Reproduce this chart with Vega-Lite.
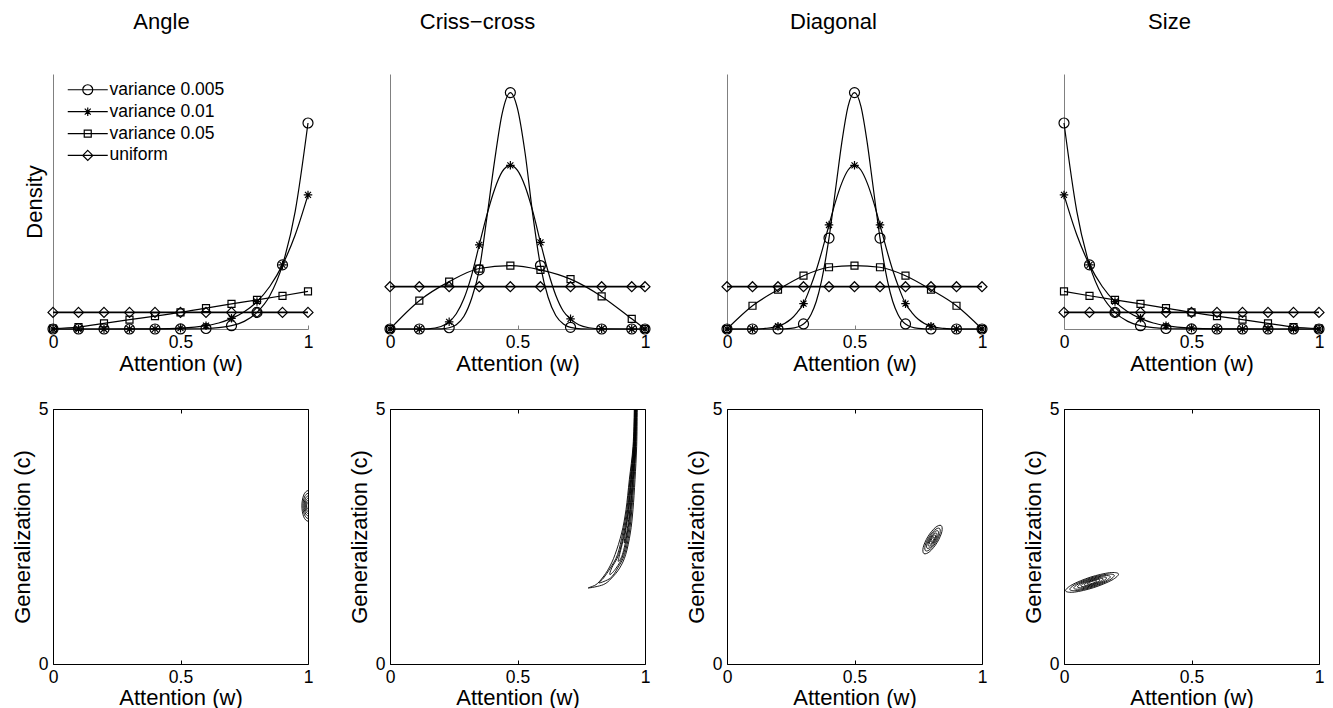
{
"$schema":"https://vega.github.io/schema/vega-lite/v6.json",
"background":"white",
"padding":{"left":10,"top":11,"right":5,"bottom":5},
"config":{
 "font":"Liberation Sans",
 "view":{"stroke":null},
 "axis":{"labelFontSize":17.5,"titleFontSize":22,"titleFontWeight":"normal","labelColor":"black","titleColor":"black","grid":false,"labelFlush":false,"labelOverlap":false},
 "title":{"fontSize":22,"fontWeight":"normal","color":"black","anchor":"middle","frame":"group","offset":40,"baseline":"alphabetic"}
},
"datasets":{
"angle":[
{"series":"variance 0.005","w":0,"density":0,"marked":true},
{"series":"variance 0.005","w":0.1,"density":0,"marked":true},
{"series":"variance 0.005","w":0.2,"density":0,"marked":true},
{"series":"variance 0.005","w":0.3,"density":0,"marked":true},
{"series":"variance 0.005","w":0.4,"density":0,"marked":true},
{"series":"variance 0.005","w":0.5,"density":0.004,"marked":true},
{"series":"variance 0.005","w":0.6,"density":0.03,"marked":true},
{"series":"variance 0.005","w":0.65,"density":0.08},
{"series":"variance 0.005","w":0.7,"density":0.2,"marked":true},
{"series":"variance 0.005","w":0.75,"density":0.46},
{"series":"variance 0.005","w":0.8,"density":1.0,"marked":true},
{"series":"variance 0.005","w":0.85,"density":2.0},
{"series":"variance 0.005","w":0.9,"density":3.86,"marked":true},
{"series":"variance 0.005","w":0.95,"density":7.1},
{"series":"variance 0.005","w":1,"density":12.4,"marked":true},
{"series":"variance 0.01","w":0,"density":0,"marked":true},
{"series":"variance 0.01","w":0.1,"density":0,"marked":true},
{"series":"variance 0.01","w":0.2,"density":0,"marked":true},
{"series":"variance 0.01","w":0.3,"density":0.002,"marked":true},
{"series":"variance 0.01","w":0.4,"density":0.01,"marked":true},
{"series":"variance 0.01","w":0.5,"density":0.05,"marked":true},
{"series":"variance 0.01","w":0.6,"density":0.2,"marked":true},
{"series":"variance 0.01","w":0.65,"density":0.36},
{"series":"variance 0.01","w":0.7,"density":0.64,"marked":true},
{"series":"variance 0.01","w":0.75,"density":1.04},
{"series":"variance 0.01","w":0.8,"density":1.65,"marked":true},
{"series":"variance 0.01","w":0.85,"density":2.56},
{"series":"variance 0.01","w":0.9,"density":3.86,"marked":true},
{"series":"variance 0.01","w":0.95,"density":5.67},
{"series":"variance 0.01","w":1,"density":8.07,"marked":true},
{"series":"variance 0.05","w":0,"density":0.02,"marked":true},
{"series":"variance 0.05","w":0.1,"density":0.12,"marked":true},
{"series":"variance 0.05","w":0.2,"density":0.34,"marked":true},
{"series":"variance 0.05","w":0.3,"density":0.56,"marked":true},
{"series":"variance 0.05","w":0.4,"density":0.77,"marked":true},
{"series":"variance 0.05","w":0.5,"density":1.0,"marked":true},
{"series":"variance 0.05","w":0.6,"density":1.26,"marked":true},
{"series":"variance 0.05","w":0.7,"density":1.51,"marked":true},
{"series":"variance 0.05","w":0.8,"density":1.75,"marked":true},
{"series":"variance 0.05","w":0.9,"density":2.0,"marked":true},
{"series":"variance 0.05","w":1,"density":2.27,"marked":true},
{"series":"uniform","w":0,"density":1,"marked":true},
{"series":"uniform","w":0.1,"density":1,"marked":true},
{"series":"uniform","w":0.2,"density":1,"marked":true},
{"series":"uniform","w":0.3,"density":1,"marked":true},
{"series":"uniform","w":0.4,"density":1,"marked":true},
{"series":"uniform","w":0.5,"density":1,"marked":true},
{"series":"uniform","w":0.6,"density":1,"marked":true},
{"series":"uniform","w":0.7,"density":1,"marked":true},
{"series":"uniform","w":0.8,"density":1,"marked":true},
{"series":"uniform","w":0.9,"density":1,"marked":true},
{"series":"uniform","w":1,"density":1,"marked":true}
],
"size":[
{"series":"variance 0.005","w":1,"density":0,"marked":true},
{"series":"variance 0.005","w":0.9,"density":0,"marked":true},
{"series":"variance 0.005","w":0.8,"density":0,"marked":true},
{"series":"variance 0.005","w":0.7,"density":0,"marked":true},
{"series":"variance 0.005","w":0.6,"density":0,"marked":true},
{"series":"variance 0.005","w":0.5,"density":0.004,"marked":true},
{"series":"variance 0.005","w":0.4,"density":0.03,"marked":true},
{"series":"variance 0.005","w":0.35,"density":0.08},
{"series":"variance 0.005","w":0.3,"density":0.2,"marked":true},
{"series":"variance 0.005","w":0.25,"density":0.46},
{"series":"variance 0.005","w":0.2,"density":1.0,"marked":true},
{"series":"variance 0.005","w":0.15,"density":2.0},
{"series":"variance 0.005","w":0.1,"density":3.86,"marked":true},
{"series":"variance 0.005","w":0.05,"density":7.1},
{"series":"variance 0.005","w":0,"density":12.4,"marked":true},
{"series":"variance 0.01","w":1,"density":0,"marked":true},
{"series":"variance 0.01","w":0.9,"density":0,"marked":true},
{"series":"variance 0.01","w":0.8,"density":0,"marked":true},
{"series":"variance 0.01","w":0.7,"density":0.002,"marked":true},
{"series":"variance 0.01","w":0.6,"density":0.01,"marked":true},
{"series":"variance 0.01","w":0.5,"density":0.05,"marked":true},
{"series":"variance 0.01","w":0.4,"density":0.2,"marked":true},
{"series":"variance 0.01","w":0.35,"density":0.36},
{"series":"variance 0.01","w":0.3,"density":0.64,"marked":true},
{"series":"variance 0.01","w":0.25,"density":1.04},
{"series":"variance 0.01","w":0.2,"density":1.65,"marked":true},
{"series":"variance 0.01","w":0.15,"density":2.56},
{"series":"variance 0.01","w":0.1,"density":3.86,"marked":true},
{"series":"variance 0.01","w":0.05,"density":5.67},
{"series":"variance 0.01","w":0,"density":8.07,"marked":true},
{"series":"variance 0.05","w":1,"density":0.02,"marked":true},
{"series":"variance 0.05","w":0.9,"density":0.12,"marked":true},
{"series":"variance 0.05","w":0.8,"density":0.34,"marked":true},
{"series":"variance 0.05","w":0.7,"density":0.56,"marked":true},
{"series":"variance 0.05","w":0.6,"density":0.77,"marked":true},
{"series":"variance 0.05","w":0.5,"density":1.0,"marked":true},
{"series":"variance 0.05","w":0.4,"density":1.26,"marked":true},
{"series":"variance 0.05","w":0.3,"density":1.51,"marked":true},
{"series":"variance 0.05","w":0.2,"density":1.75,"marked":true},
{"series":"variance 0.05","w":0.1,"density":2.0,"marked":true},
{"series":"variance 0.05","w":0,"density":2.27,"marked":true},
{"series":"uniform","w":0,"density":1,"marked":true},
{"series":"uniform","w":0.1,"density":1,"marked":true},
{"series":"uniform","w":0.2,"density":1,"marked":true},
{"series":"uniform","w":0.3,"density":1,"marked":true},
{"series":"uniform","w":0.4,"density":1,"marked":true},
{"series":"uniform","w":0.5,"density":1,"marked":true},
{"series":"uniform","w":0.6,"density":1,"marked":true},
{"series":"uniform","w":0.7,"density":1,"marked":true},
{"series":"uniform","w":0.8,"density":1,"marked":true},
{"series":"uniform","w":0.9,"density":1,"marked":true},
{"series":"uniform","w":1,"density":1,"marked":true}
],
"criss":[
{"series":"variance 0.005","w":0,"density":0,"marked":true},
{"series":"variance 0.005","w":0.115,"density":0,"marked":true},
{"series":"variance 0.005","w":0.2,"density":0.003},
{"series":"variance 0.005","w":0.232,"density":0.03,"marked":true},
{"series":"variance 0.005","w":0.26,"density":0.1},
{"series":"variance 0.005","w":0.29,"density":0.3},
{"series":"variance 0.005","w":0.32,"density":0.72},
{"series":"variance 0.005","w":0.35,"density":1.4,"marked":true},
{"series":"variance 0.005","w":0.38,"density":2.64},
{"series":"variance 0.005","w":0.41,"density":3.97},
{"series":"variance 0.005","w":0.44,"density":5.1},
{"series":"variance 0.005","w":0.472,"density":5.59,"marked":true},
{"series":"variance 0.005","w":0.5,"density":5.21},
{"series":"variance 0.005","w":0.53,"density":4.15},
{"series":"variance 0.005","w":0.56,"density":2.7},
{"series":"variance 0.005","w":0.59,"density":1.5,"marked":true},
{"series":"variance 0.005","w":0.62,"density":0.75},
{"series":"variance 0.005","w":0.65,"density":0.32},
{"series":"variance 0.005","w":0.68,"density":0.12},
{"series":"variance 0.005","w":0.708,"density":0.04,"marked":true},
{"series":"variance 0.005","w":0.75,"density":0.005},
{"series":"variance 0.005","w":0.83,"density":0,"marked":true},
{"series":"variance 0.005","w":0.948,"density":0,"marked":true},
{"series":"variance 0.005","w":1,"density":0,"marked":true},
{"series":"variance 0.01","w":0,"density":0,"marked":true},
{"series":"variance 0.01","w":0.115,"density":0,"marked":true},
{"series":"variance 0.01","w":0.15,"density":0.005},
{"series":"variance 0.01","w":0.2,"density":0.06},
{"series":"variance 0.01","w":0.232,"density":0.17,"marked":true},
{"series":"variance 0.01","w":0.26,"density":0.36},
{"series":"variance 0.01","w":0.29,"density":0.72},
{"series":"variance 0.01","w":0.32,"density":1.27},
{"series":"variance 0.01","w":0.35,"density":1.99,"marked":true},
{"series":"variance 0.01","w":0.38,"density":2.7},
{"series":"variance 0.01","w":0.41,"density":3.3},
{"series":"variance 0.01","w":0.44,"density":3.72},
{"series":"variance 0.01","w":0.472,"density":3.87,"marked":true},
{"series":"variance 0.01","w":0.5,"density":3.75},
{"series":"variance 0.01","w":0.53,"density":3.37},
{"series":"variance 0.01","w":0.56,"density":2.78},
{"series":"variance 0.01","w":0.59,"density":2.05,"marked":true},
{"series":"variance 0.01","w":0.62,"density":1.36},
{"series":"variance 0.01","w":0.65,"density":0.8},
{"series":"variance 0.01","w":0.68,"density":0.42},
{"series":"variance 0.01","w":0.708,"density":0.24,"marked":true},
{"series":"variance 0.01","w":0.74,"density":0.1},
{"series":"variance 0.01","w":0.78,"density":0.03},
{"series":"variance 0.01","w":0.83,"density":0.005,"marked":true},
{"series":"variance 0.01","w":0.948,"density":0,"marked":true},
{"series":"variance 0.01","w":1,"density":0,"marked":true},
{"series":"variance 0.05","w":0,"density":0,"marked":true},
{"series":"variance 0.05","w":0.115,"density":0.67,"marked":true},
{"series":"variance 0.05","w":0.232,"density":1.12,"marked":true},
{"series":"variance 0.05","w":0.35,"density":1.43,"marked":true},
{"series":"variance 0.05","w":0.472,"density":1.5,"marked":true},
{"series":"variance 0.05","w":0.59,"density":1.4,"marked":true},
{"series":"variance 0.05","w":0.708,"density":1.18,"marked":true},
{"series":"variance 0.05","w":0.83,"density":0.77,"marked":true},
{"series":"variance 0.05","w":0.948,"density":0.24,"marked":true},
{"series":"variance 0.05","w":1,"density":0,"marked":true},
{"series":"uniform","w":0,"density":1,"marked":true},
{"series":"uniform","w":0.115,"density":1,"marked":true},
{"series":"uniform","w":0.232,"density":1,"marked":true},
{"series":"uniform","w":0.35,"density":1,"marked":true},
{"series":"uniform","w":0.472,"density":1,"marked":true},
{"series":"uniform","w":0.59,"density":1,"marked":true},
{"series":"uniform","w":0.708,"density":1,"marked":true},
{"series":"uniform","w":0.83,"density":1,"marked":true},
{"series":"uniform","w":0.948,"density":1,"marked":true},
{"series":"uniform","w":1,"density":1,"marked":true}
],
"diag":[
{"series":"variance 0.005","w":0,"density":0,"marked":true},
{"series":"variance 0.005","w":0.1,"density":0,"marked":true},
{"series":"variance 0.005","w":0.2,"density":0,"marked":true},
{"series":"variance 0.005","w":0.25,"density":0.014},
{"series":"variance 0.005","w":0.3,"density":0.12,"marked":true},
{"series":"variance 0.005","w":0.33,"density":0.35},
{"series":"variance 0.005","w":0.35,"density":0.65},
{"series":"variance 0.005","w":0.37,"density":1.12},
{"series":"variance 0.005","w":0.4,"density":2.15,"marked":true},
{"series":"variance 0.005","w":0.43,"density":3.5},
{"series":"variance 0.005","w":0.45,"density":4.4},
{"series":"variance 0.005","w":0.475,"density":5.27},
{"series":"variance 0.005","w":0.5,"density":5.59,"marked":true},
{"series":"variance 0.005","w":0.525,"density":5.27},
{"series":"variance 0.005","w":0.55,"density":4.4},
{"series":"variance 0.005","w":0.57,"density":3.5},
{"series":"variance 0.005","w":0.6,"density":2.15,"marked":true},
{"series":"variance 0.005","w":0.63,"density":1.12},
{"series":"variance 0.005","w":0.65,"density":0.65},
{"series":"variance 0.005","w":0.67,"density":0.35},
{"series":"variance 0.005","w":0.7,"density":0.12,"marked":true},
{"series":"variance 0.005","w":0.75,"density":0.014},
{"series":"variance 0.005","w":0.8,"density":0,"marked":true},
{"series":"variance 0.005","w":0.9,"density":0,"marked":true},
{"series":"variance 0.005","w":1,"density":0,"marked":true},
{"series":"variance 0.01","w":0,"density":0,"marked":true},
{"series":"variance 0.01","w":0.1,"density":0,"marked":true},
{"series":"variance 0.01","w":0.15,"density":0.015},
{"series":"variance 0.01","w":0.2,"density":0.065,"marked":true},
{"series":"variance 0.01","w":0.25,"density":0.23},
{"series":"variance 0.01","w":0.275,"density":0.39},
{"series":"variance 0.01","w":0.3,"density":0.6,"marked":true},
{"series":"variance 0.01","w":0.325,"density":0.96},
{"series":"variance 0.01","w":0.35,"density":1.39},
{"series":"variance 0.01","w":0.375,"density":1.9},
{"series":"variance 0.01","w":0.4,"density":2.46,"marked":true},
{"series":"variance 0.01","w":0.425,"density":3.0},
{"series":"variance 0.01","w":0.45,"density":3.45},
{"series":"variance 0.01","w":0.475,"density":3.76},
{"series":"variance 0.01","w":0.5,"density":3.87,"marked":true},
{"series":"variance 0.01","w":0.525,"density":3.76},
{"series":"variance 0.01","w":0.55,"density":3.45},
{"series":"variance 0.01","w":0.575,"density":3.0},
{"series":"variance 0.01","w":0.6,"density":2.46,"marked":true},
{"series":"variance 0.01","w":0.625,"density":1.9},
{"series":"variance 0.01","w":0.65,"density":1.39},
{"series":"variance 0.01","w":0.675,"density":0.96},
{"series":"variance 0.01","w":0.7,"density":0.6,"marked":true},
{"series":"variance 0.01","w":0.725,"density":0.39},
{"series":"variance 0.01","w":0.75,"density":0.23},
{"series":"variance 0.01","w":0.8,"density":0.065,"marked":true},
{"series":"variance 0.01","w":0.85,"density":0.015},
{"series":"variance 0.01","w":0.9,"density":0,"marked":true},
{"series":"variance 0.01","w":1,"density":0,"marked":true},
{"series":"variance 0.05","w":0,"density":0,"marked":true},
{"series":"variance 0.05","w":0.1,"density":0.55,"marked":true},
{"series":"variance 0.05","w":0.2,"density":0.93,"marked":true},
{"series":"variance 0.05","w":0.3,"density":1.26,"marked":true},
{"series":"variance 0.05","w":0.4,"density":1.46,"marked":true},
{"series":"variance 0.05","w":0.5,"density":1.5,"marked":true},
{"series":"variance 0.05","w":0.6,"density":1.46,"marked":true},
{"series":"variance 0.05","w":0.7,"density":1.26,"marked":true},
{"series":"variance 0.05","w":0.8,"density":0.93,"marked":true},
{"series":"variance 0.05","w":0.9,"density":0.55,"marked":true},
{"series":"variance 0.05","w":1,"density":0,"marked":true},
{"series":"uniform","w":0,"density":1,"marked":true},
{"series":"uniform","w":0.1,"density":1,"marked":true},
{"series":"uniform","w":0.2,"density":1,"marked":true},
{"series":"uniform","w":0.3,"density":1,"marked":true},
{"series":"uniform","w":0.4,"density":1,"marked":true},
{"series":"uniform","w":0.5,"density":1,"marked":true},
{"series":"uniform","w":0.6,"density":1,"marked":true},
{"series":"uniform","w":0.7,"density":1,"marked":true},
{"series":"uniform","w":0.8,"density":1,"marked":true},
{"series":"uniform","w":0.9,"density":1,"marked":true},
{"series":"uniform","w":1,"density":1,"marked":true}
],
"angle_c":[
{"level":1,"i":0,"w":1.024,"c":3.1},{"level":1,"i":1,"w":1.017,"c":3.312},{"level":1,"i":2,"w":1.0,"c":3.4},{"level":1,"i":3,"w":0.983,"c":3.312},{"level":1,"i":4,"w":0.976,"c":3.1},{"level":1,"i":5,"w":0.983,"c":2.888},{"level":1,"i":6,"w":1.0,"c":2.8},{"level":1,"i":7,"w":1.017,"c":2.888},
{"level":2,"i":0,"w":1.0197,"c":3.1},{"level":2,"i":1,"w":1.0139,"c":3.274},{"level":2,"i":2,"w":1.0,"c":3.346},{"level":2,"i":3,"w":0.9861,"c":3.274},{"level":2,"i":4,"w":0.9803,"c":3.1},{"level":2,"i":5,"w":0.9861,"c":2.926},{"level":2,"i":6,"w":1.0,"c":2.854},{"level":2,"i":7,"w":1.0139,"c":2.926},
{"level":3,"i":0,"w":1.0156,"c":3.1},{"level":3,"i":1,"w":1.011,"c":3.238},{"level":3,"i":2,"w":1.0,"c":3.295},{"level":3,"i":3,"w":0.989,"c":3.238},{"level":3,"i":4,"w":0.9844,"c":3.1},{"level":3,"i":5,"w":0.989,"c":2.962},{"level":3,"i":6,"w":1.0,"c":2.905},{"level":3,"i":7,"w":1.011,"c":2.962},
{"level":4,"i":0,"w":1.012,"c":3.1},{"level":4,"i":1,"w":1.0085,"c":3.206},{"level":4,"i":2,"w":1.0,"c":3.25},{"level":4,"i":3,"w":0.9915,"c":3.206},{"level":4,"i":4,"w":0.988,"c":3.1},{"level":4,"i":5,"w":0.9915,"c":2.994},{"level":4,"i":6,"w":1.0,"c":2.95},{"level":4,"i":7,"w":1.0085,"c":2.994},
{"level":5,"i":0,"w":1.0086,"c":3.1},{"level":5,"i":1,"w":1.0061,"c":3.176},{"level":5,"i":2,"w":1.0,"c":3.208},{"level":5,"i":3,"w":0.9939,"c":3.176},{"level":5,"i":4,"w":0.9914,"c":3.1},{"level":5,"i":5,"w":0.9939,"c":3.024},{"level":5,"i":6,"w":1.0,"c":2.992},{"level":5,"i":7,"w":1.0061,"c":3.024},
{"level":6,"i":0,"w":1.0053,"c":3.1},{"level":6,"i":1,"w":1.0037,"c":3.147},{"level":6,"i":2,"w":1.0,"c":3.166},{"level":6,"i":3,"w":0.9963,"c":3.147},{"level":6,"i":4,"w":0.9947,"c":3.1},{"level":6,"i":5,"w":0.9963,"c":3.053},{"level":6,"i":6,"w":1.0,"c":3.034},{"level":6,"i":7,"w":1.0037,"c":3.053}
],
"criss_c":[
{"level":1,"i":0,"w":0.958,"c":5.0},{"level":1,"i":1,"w":0.953,"c":4.268},{"level":1,"i":2,"w":0.9386,"c":3.614},{"level":1,"i":3,"w":0.9255,"c":3.026},{"level":1,"i":4,"w":0.9085,"c":2.569},{"level":1,"i":5,"w":0.8824,"c":2.144},{"level":1,"i":6,"w":0.8588,"c":1.882},{"level":1,"i":7,"w":0.8327,"c":1.686},{"level":1,"i":8,"w":0.8078,"c":1.556},{"level":1,"i":9,"w":0.7778,"c":1.49},{"level":1,"i":10,"w":0.8366,"c":1.556},{"level":1,"i":11,"w":0.8693,"c":1.686},{"level":1,"i":12,"w":0.9007,"c":1.882},{"level":1,"i":13,"w":0.9242,"c":2.144},{"level":1,"i":14,"w":0.9425,"c":2.569},{"level":1,"i":15,"w":0.9529,"c":3.026},{"level":1,"i":16,"w":0.9608,"c":3.614},{"level":1,"i":17,"w":0.9673,"c":4.268},{"level":1,"i":18,"w":0.9699,"c":5.0},{"level":1,"i":19,"w":0.972,"c":5.4},{"level":1,"i":20,"w":0.958,"c":5.4},
{"level":2,"i":0,"w":0.9595,"c":5.0},{"level":2,"i":1,"w":0.9546,"c":4.268},{"level":2,"i":2,"w":0.9412,"c":3.614},{"level":2,"i":3,"w":0.9288,"c":3.026},{"level":2,"i":4,"w":0.9127,"c":2.569},{"level":2,"i":5,"w":0.8922,"c":2.144},{"level":2,"i":6,"w":0.8641,"c":1.882},{"level":2,"i":7,"w":0.8373,"c":1.686},{"level":2,"i":8,"w":0.8196,"c":1.588},{"level":2,"i":9,"w":0.8647,"c":1.686},{"level":2,"i":10,"w":0.893,"c":1.882},{"level":2,"i":11,"w":0.9196,"c":2.144},{"level":2,"i":12,"w":0.9382,"c":2.569},{"level":2,"i":13,"w":0.9484,"c":3.026},{"level":2,"i":14,"w":0.9569,"c":3.614},{"level":2,"i":15,"w":0.9644,"c":4.268},{"level":2,"i":16,"w":0.9673,"c":5.0},{"level":2,"i":17,"w":0.969,"c":5.4},{"level":2,"i":18,"w":0.959,"c":5.4},
{"level":3,"i":0,"w":0.9608,"c":5.0},{"level":3,"i":1,"w":0.9562,"c":4.268},{"level":3,"i":2,"w":0.9438,"c":3.614},{"level":3,"i":3,"w":0.932,"c":3.026},{"level":3,"i":4,"w":0.917,"c":2.569},{"level":3,"i":5,"w":0.8967,"c":2.144},{"level":3,"i":6,"w":0.8693,"c":1.882},{"level":3,"i":7,"w":0.8627,"c":1.752},{"level":3,"i":8,"w":0.887,"c":1.882},{"level":3,"i":9,"w":0.915,"c":2.144},{"level":3,"i":10,"w":0.934,"c":2.569},{"level":3,"i":11,"w":0.9451,"c":3.026},{"level":3,"i":12,"w":0.9542,"c":3.614},{"level":3,"i":13,"w":0.9627,"c":4.268},{"level":3,"i":14,"w":0.966,"c":5.0},{"level":3,"i":15,"w":0.967,"c":5.4},{"level":3,"i":16,"w":0.96,"c":5.4},
{"level":4,"i":0,"w":0.9619,"c":5.0},{"level":4,"i":1,"w":0.9575,"c":4.268},{"level":4,"i":2,"w":0.9459,"c":3.614},{"level":4,"i":3,"w":0.9346,"c":3.026},{"level":4,"i":4,"w":0.9204,"c":2.569},{"level":4,"i":5,"w":0.9004,"c":2.144},{"level":4,"i":6,"w":0.8954,"c":2.013},{"level":4,"i":7,"w":0.9114,"c":2.144},{"level":4,"i":8,"w":0.9306,"c":2.569},{"level":4,"i":9,"w":0.9425,"c":3.026},{"level":4,"i":10,"w":0.9521,"c":3.614},{"level":4,"i":11,"w":0.9614,"c":4.268},{"level":4,"i":12,"w":0.9649,"c":5.0},{"level":4,"i":13,"w":0.965,"c":5.4},{"level":4,"i":14,"w":0.961,"c":5.4},
{"level":5,"i":0,"w":0.9627,"c":5.0},{"level":5,"i":1,"w":0.9585,"c":4.268},{"level":5,"i":2,"w":0.9475,"c":3.614},{"level":5,"i":3,"w":0.9366,"c":3.026},{"level":5,"i":4,"w":0.9229,"c":2.569},{"level":5,"i":5,"w":0.919,"c":2.373},{"level":5,"i":6,"w":0.9281,"c":2.569},{"level":5,"i":7,"w":0.9405,"c":3.026},{"level":5,"i":8,"w":0.9506,"c":3.614},{"level":5,"i":9,"w":0.9605,"c":4.268},{"level":5,"i":10,"w":0.9641,"c":5.0},{"level":5,"i":11,"w":0.964,"c":5.4},{"level":5,"i":12,"w":0.962,"c":5.4}
],
"diag_c":[
{"level":1,"i":0,"w":0.8395,"c":2.7164},{"level":1,"i":1,"w":0.8427,"c":2.5959},{"level":1,"i":2,"w":0.8244,"c":2.3841},{"level":1,"i":3,"w":0.7953,"c":2.2051},{"level":1,"i":4,"w":0.7725,"c":2.1636},{"level":1,"i":5,"w":0.7693,"c":2.2841},{"level":1,"i":6,"w":0.7876,"c":2.4959},{"level":1,"i":7,"w":0.8167,"c":2.6749},
{"level":2,"i":0,"w":0.8328,"c":2.6611},{"level":2,"i":1,"w":0.8354,"c":2.5647},{"level":2,"i":2,"w":0.8207,"c":2.3953},{"level":2,"i":3,"w":0.7974,"c":2.2521},{"level":2,"i":4,"w":0.7792,"c":2.2189},{"level":2,"i":5,"w":0.7766,"c":2.3153},{"level":2,"i":6,"w":0.7913,"c":2.4847},{"level":2,"i":7,"w":0.8146,"c":2.6279},
{"level":3,"i":0,"w":0.8268,"c":2.6114},{"level":3,"i":1,"w":0.8288,"c":2.5367},{"level":3,"i":2,"w":0.8174,"c":2.4053},{"level":3,"i":3,"w":0.7994,"c":2.2944},{"level":3,"i":4,"w":0.7852,"c":2.2686},{"level":3,"i":5,"w":0.7832,"c":2.3433},{"level":3,"i":6,"w":0.7946,"c":2.4747},{"level":3,"i":7,"w":0.8126,"c":2.5856},
{"level":4,"i":0,"w":0.8214,"c":2.5671},{"level":4,"i":1,"w":0.8229,"c":2.5117},{"level":4,"i":2,"w":0.8145,"c":2.4143},{"level":4,"i":3,"w":0.8011,"c":2.3319},{"level":4,"i":4,"w":0.7906,"c":2.3129},{"level":4,"i":5,"w":0.7891,"c":2.3683},{"level":4,"i":6,"w":0.7975,"c":2.4657},{"level":4,"i":7,"w":0.8109,"c":2.5481},
{"level":5,"i":0,"w":0.8167,"c":2.5284},{"level":5,"i":1,"w":0.8177,"c":2.4899},{"level":5,"i":2,"w":0.8119,"c":2.4221},{"level":5,"i":3,"w":0.8026,"c":2.3648},{"level":5,"i":4,"w":0.7953,"c":2.3516},{"level":5,"i":5,"w":0.7943,"c":2.3901},{"level":5,"i":6,"w":0.8001,"c":2.4579},{"level":5,"i":7,"w":0.8094,"c":2.5152},
{"level":6,"i":0,"w":0.812,"c":2.4898},{"level":6,"i":1,"w":0.8126,"c":2.4681},{"level":6,"i":2,"w":0.8093,"c":2.4299},{"level":6,"i":3,"w":0.8041,"c":2.3977},{"level":6,"i":4,"w":0.8,"c":2.3902},{"level":6,"i":5,"w":0.7994,"c":2.4119},{"level":6,"i":6,"w":0.8027,"c":2.4501},{"level":6,"i":7,"w":0.8079,"c":2.4823}
],
"size_c":[
{"level":1,"i":0,"w":0.2137,"c":1.7664},{"level":1,"i":1,"w":0.188,"c":1.6451},{"level":1,"i":2,"w":0.1166,"c":1.4974},{"level":1,"i":3,"w":0.0413,"c":1.4098},{"level":1,"i":4,"w":0.0063,"c":1.4336},{"level":1,"i":5,"w":0.032,"c":1.5549},{"level":1,"i":6,"w":0.1034,"c":1.7026},{"level":1,"i":7,"w":0.1787,"c":1.7902},
{"level":2,"i":0,"w":0.1971,"c":1.7398},{"level":2,"i":1,"w":0.1755,"c":1.6379},{"level":2,"i":2,"w":0.1155,"c":1.5138},{"level":2,"i":3,"w":0.0523,"c":1.4402},{"level":2,"i":4,"w":0.0229,"c":1.4602},{"level":2,"i":5,"w":0.0445,"c":1.5621},{"level":2,"i":6,"w":0.1045,"c":1.6862},{"level":2,"i":7,"w":0.1677,"c":1.7598},
{"level":3,"i":0,"w":0.1816,"c":1.7148},{"level":3,"i":1,"w":0.1638,"c":1.6311},{"level":3,"i":2,"w":0.1146,"c":1.5292},{"level":3,"i":3,"w":0.0626,"c":1.4688},{"level":3,"i":4,"w":0.0384,"c":1.4852},{"level":3,"i":5,"w":0.0562,"c":1.5689},{"level":3,"i":6,"w":0.1054,"c":1.6708},{"level":3,"i":7,"w":0.1574,"c":1.7312},
{"level":4,"i":0,"w":0.167,"c":1.6915},{"level":4,"i":1,"w":0.1529,"c":1.6248},{"level":4,"i":2,"w":0.1136,"c":1.5436},{"level":4,"i":3,"w":0.0722,"c":1.4954},{"level":4,"i":4,"w":0.053,"c":1.5085},{"level":4,"i":5,"w":0.0671,"c":1.5752},{"level":4,"i":6,"w":0.1064,"c":1.6564},{"level":4,"i":7,"w":0.1478,"c":1.7046},
{"level":5,"i":0,"w":0.1536,"c":1.6699},{"level":5,"i":1,"w":0.1428,"c":1.6189},{"level":5,"i":2,"w":0.1128,"c":1.5569},{"level":5,"i":3,"w":0.0811,"c":1.5201},{"level":5,"i":4,"w":0.0664,"c":1.5301},{"level":5,"i":5,"w":0.0772,"c":1.5811},{"level":5,"i":6,"w":0.1072,"c":1.6431},{"level":5,"i":7,"w":0.1389,"c":1.6799},
{"level":6,"i":0,"w":0.1411,"c":1.6499},{"level":6,"i":1,"w":0.1334,"c":1.6135},{"level":6,"i":2,"w":0.112,"c":1.5692},{"level":6,"i":3,"w":0.0894,"c":1.5429},{"level":6,"i":4,"w":0.0789,"c":1.5501},{"level":6,"i":5,"w":0.0866,"c":1.5865},{"level":6,"i":6,"w":0.108,"c":1.6308},{"level":6,"i":7,"w":0.1306,"c":1.6571},
{"level":7,"i":0,"w":0.1287,"c":1.63},{"level":7,"i":1,"w":0.124,"c":1.6081},{"level":7,"i":2,"w":0.1112,"c":1.5815},{"level":7,"i":3,"w":0.0976,"c":1.5658},{"level":7,"i":4,"w":0.0913,"c":1.57},{"level":7,"i":5,"w":0.096,"c":1.5919},{"level":7,"i":6,"w":0.1088,"c":1.6185},{"level":7,"i":7,"w":0.1224,"c":1.6342}
]
},
"columns":4,
"spacing":{"row":80,"column":82},
"bounds":"flush",
"resolve":{"scale":{"shape":"independent"}},
"concat":[
{
 "width":255,"height":255,
 "title":{"text":"Angle","dx":-19},
 "data":{"name":"angle"},
 "resolve":{"scale":{"shape":"independent"}},
 "encoding":{
  "x":{"field":"w","type":"quantitative","scale":{"domain":[0,1],"nice":false},"axis":{"values":[0,0.5,1],"format":"~g","tickSize":-4,"tickColor":"#808080","domainColor":"#808080","labelPadding":8,"title":"Attention (w)","titleY":41.4,"titleBaseline":"alphabetic"}},
  "y":{"field":"density","type":"quantitative","scale":{"domain":[0,15.35],"nice":false},"axis":{"ticks":false,"labels":false,"domainColor":"#808080","title":"Density","titleX":-11.5,"titleY":127.5,"titleBaseline":"alphabetic"}}
 },
 "layer":[
  {"mark":{"type":"line","interpolate":"monotone","color":"black"},"encoding":{"detail":{"field":"series","type":"nominal"},"strokeWidth":{"condition":{"test":"datum.series === 'uniform'","value":1.8},"value":1.2}}},
  {"transform":[{"filter":"datum.marked"}],"mark":{"type":"point","filled":false,"size":100,"color":"black","strokeWidth":1.2,"opacity":1},
   "encoding":{"shape":{"field":"series","type":"nominal",
     "scale":{"domain":["variance 0.005","variance 0.01","variance 0.05","uniform"],"range":["M1,0A1,1,0,1,1,-1,0A1,1,0,1,1,1,0Z","M-0.85,0L0.85,0M0,-0.85L0,0.85M-0.6,-0.6L0.6,0.6M-0.6,0.6L0.6,-0.6","M-0.7,-0.7L0.7,-0.7L0.7,0.7L-0.7,0.7Z","M0,-1L1,0L0,1L-1,0Z"]},"legend":null}}},
  {"transform":[{"filter":"datum.w === 0"}],"mark":{"type":"point","filled":false,"size":100,"color":"black","strokeWidth":1.2,"opacity":0},
   "encoding":{"shape":{"field":"series","type":"nominal",
     "scale":{"domain":["variance 0.005","variance 0.01","variance 0.05","uniform"],"range":["M-4,0L4,0M1,0A1,1,0,1,1,-1,0A1,1,0,1,1,1,0Z","M-4,0L4,0M0,-0.85L0,0.85M-0.6,-0.6L0.6,0.6M-0.6,0.6L0.6,-0.6","M-4,0L4,0M-0.7,-0.7L0.7,-0.7L0.7,0.7L-0.7,0.7Z","M-4,0L4,0M0,-1L1,0L0,1L-1,0Z"]},
     "legend":{"orient":"none","legendX":26,"legendY":7,"title":null,"padding":0,"labelFontSize":17.5,"labelColor":"black","labelOffset":13,"rowPadding":2.9,"symbolSize":100,"symbolStrokeWidth":1.2,"symbolStrokeColor":"black","symbolFillColor":"transparent","symbolOpacity":1}}}}
 ]
},
{
 "width":255,"height":255,
 "title":{"text":"Criss−cross","dx":-40},
 "data":{"name":"criss"},
 "encoding":{
  "x":{"field":"w","type":"quantitative","scale":{"domain":[0,1],"nice":false},"axis":{"values":[0,0.5,1],"format":"~g","tickSize":-4,"tickColor":"#808080","domainColor":"#808080","labelPadding":8,"title":"Attention (w)","titleY":41.4,"titleBaseline":"alphabetic"}},
  "y":{"field":"density","type":"quantitative","scale":{"domain":[0,6.03],"nice":false},"axis":{"ticks":false,"labels":false,"domainColor":"#808080","title":null}}
 },
 "layer":[
  {"mark":{"type":"line","interpolate":"monotone","color":"black"},"encoding":{"detail":{"field":"series","type":"nominal"},"strokeWidth":{"condition":{"test":"datum.series === 'uniform'","value":1.8},"value":1.2}}},
  {"transform":[{"filter":"datum.marked"}],"mark":{"type":"point","filled":false,"size":100,"color":"black","strokeWidth":1.2,"opacity":1},
   "encoding":{"shape":{"field":"series","type":"nominal",
     "scale":{"domain":["variance 0.005","variance 0.01","variance 0.05","uniform"],"range":["M1,0A1,1,0,1,1,-1,0A1,1,0,1,1,1,0Z","M-0.85,0L0.85,0M0,-0.85L0,0.85M-0.6,-0.6L0.6,0.6M-0.6,0.6L0.6,-0.6","M-0.7,-0.7L0.7,-0.7L0.7,0.7L-0.7,0.7Z","M0,-1L1,0L0,1L-1,0Z"]},"legend":null}}}
 ]
},
{
 "width":255,"height":255,
 "title":{"text":"Diagonal","dx":-21},
 "data":{"name":"diag"},
 "encoding":{
  "x":{"field":"w","type":"quantitative","scale":{"domain":[0,1],"nice":false},"axis":{"values":[0,0.5,1],"format":"~g","tickSize":-4,"tickColor":"#808080","domainColor":"#808080","labelPadding":8,"title":"Attention (w)","titleY":41.4,"titleBaseline":"alphabetic"}},
  "y":{"field":"density","type":"quantitative","scale":{"domain":[0,6.03],"nice":false},"axis":{"ticks":false,"labels":false,"domainColor":"#808080","title":null}}
 },
 "layer":[
  {"mark":{"type":"line","interpolate":"monotone","color":"black"},"encoding":{"detail":{"field":"series","type":"nominal"},"strokeWidth":{"condition":{"test":"datum.series === 'uniform'","value":1.8},"value":1.2}}},
  {"transform":[{"filter":"datum.marked"}],"mark":{"type":"point","filled":false,"size":100,"color":"black","strokeWidth":1.2,"opacity":1},
   "encoding":{"shape":{"field":"series","type":"nominal",
     "scale":{"domain":["variance 0.005","variance 0.01","variance 0.05","uniform"],"range":["M1,0A1,1,0,1,1,-1,0A1,1,0,1,1,1,0Z","M-0.85,0L0.85,0M0,-0.85L0,0.85M-0.6,-0.6L0.6,0.6M-0.6,0.6L0.6,-0.6","M-0.7,-0.7L0.7,-0.7L0.7,0.7L-0.7,0.7Z","M0,-1L1,0L0,1L-1,0Z"]},"legend":null}}}
 ]
},
{
 "width":255,"height":255,
 "title":{"text":"Size","dx":-22},
 "data":{"name":"size"},
 "encoding":{
  "x":{"field":"w","type":"quantitative","scale":{"domain":[0,1],"nice":false},"axis":{"values":[0,0.5,1],"format":"~g","tickSize":-4,"tickColor":"#808080","domainColor":"#808080","labelPadding":8,"title":"Attention (w)","titleY":41.4,"titleBaseline":"alphabetic"}},
  "y":{"field":"density","type":"quantitative","scale":{"domain":[0,15.35],"nice":false},"axis":{"ticks":false,"labels":false,"domainColor":"#808080","title":null}}
 },
 "layer":[
  {"mark":{"type":"line","interpolate":"monotone","color":"black"},"encoding":{"detail":{"field":"series","type":"nominal"},"strokeWidth":{"condition":{"test":"datum.series === 'uniform'","value":1.8},"value":1.2}}},
  {"transform":[{"filter":"datum.marked"}],"mark":{"type":"point","filled":false,"size":100,"color":"black","strokeWidth":1.2,"opacity":1},
   "encoding":{"shape":{"field":"series","type":"nominal",
     "scale":{"domain":["variance 0.005","variance 0.01","variance 0.05","uniform"],"range":["M1,0A1,1,0,1,1,-1,0A1,1,0,1,1,1,0Z","M-0.85,0L0.85,0M0,-0.85L0,0.85M-0.6,-0.6L0.6,0.6M-0.6,0.6L0.6,-0.6","M-0.7,-0.7L0.7,-0.7L0.7,0.7L-0.7,0.7Z","M0,-1L1,0L0,1L-1,0Z"]},"legend":null}}}
 ]
},
{
 "width":255,"height":255,
 "data":{"name":"angle_c"},
 "view":{"stroke":"black","strokeWidth":1},
 "encoding":{
  "y":{"field":"c","type":"quantitative","scale":{"domain":[0,5],"nice":false},"axis":{"values":[0,5],"format":"~g","domain":false,"tickSize":-4,"tickColor":"black","labelPadding":9,"title":"Generalization (c)","titleX":-23.7,"titleY":127.5,"titleBaseline":"alphabetic"}}
 },
 "resolve":{"axis":{"x":"independent"}},
 "layer":[
  {"transform":[{"filter":"datum.level === 1"}],"mark":{"type":"line","interpolate":"cardinal-closed","clip":true,"color":"black","strokeWidth":0.9},
   "encoding":{"x":{"field":"w","type":"quantitative","scale":{"domain":[0,1],"nice":false},"axis":{"orient":"bottom","values":[0,0.5,1],"format":"~g","domain":false,"tickSize":-4,"tickColor":"black","labelPadding":8,"title":"Attention (w)","titleY":40,"titleBaseline":"alphabetic"}},"detail":{"field":"level","type":"nominal"},"order":{"field":"i","type":"quantitative"}}},
  {"transform":[{"filter":"datum.level > 1"}],"mark":{"type":"line","interpolate":"cardinal-closed","clip":true,"color":"black","strokeWidth":0.9},
   "encoding":{"x":{"field":"w","type":"quantitative","scale":{"domain":[0,1],"nice":false},"axis":{"orient":"top","values":[0,0.5,1],"labels":false,"domain":false,"tickSize":-4,"tickColor":"black","title":null}},"detail":{"field":"level","type":"nominal"},"order":{"field":"i","type":"quantitative"}}}
 ]
},
{
 "width":255,"height":255,
 "data":{"name":"criss_c"},
 "view":{"stroke":"black","strokeWidth":1},
 "encoding":{
  "y":{"field":"c","type":"quantitative","scale":{"domain":[0,5],"nice":false},"axis":{"values":[0,5],"format":"~g","domain":false,"tickSize":-4,"tickColor":"black","labelPadding":9,"title":"Generalization (c)","titleX":-23.7,"titleY":127.5,"titleBaseline":"alphabetic"}}
 },
 "resolve":{"axis":{"x":"independent"}},
 "layer":[
  {"transform":[{"filter":"datum.level === 1"}],"mark":{"type":"line","interpolate":"cardinal-closed","clip":true,"color":"black","strokeWidth":0.9},
   "encoding":{"x":{"field":"w","type":"quantitative","scale":{"domain":[0,1],"nice":false},"axis":{"orient":"bottom","values":[0,0.5,1],"format":"~g","domain":false,"tickSize":-4,"tickColor":"black","labelPadding":8,"title":"Attention (w)","titleY":40,"titleBaseline":"alphabetic"}},"detail":{"field":"level","type":"nominal"},"order":{"field":"i","type":"quantitative"}}},
  {"transform":[{"filter":"datum.level > 1"}],"mark":{"type":"line","interpolate":"cardinal-closed","clip":true,"color":"black","strokeWidth":0.9},
   "encoding":{"x":{"field":"w","type":"quantitative","scale":{"domain":[0,1],"nice":false},"axis":{"orient":"top","values":[0,0.5,1],"labels":false,"domain":false,"tickSize":-4,"tickColor":"black","title":null}},"detail":{"field":"level","type":"nominal"},"order":{"field":"i","type":"quantitative"}}}
 ]
},
{
 "width":255,"height":255,
 "data":{"name":"diag_c"},
 "view":{"stroke":"black","strokeWidth":1},
 "encoding":{
  "y":{"field":"c","type":"quantitative","scale":{"domain":[0,5],"nice":false},"axis":{"values":[0,5],"format":"~g","domain":false,"tickSize":-4,"tickColor":"black","labelPadding":9,"title":"Generalization (c)","titleX":-23.7,"titleY":127.5,"titleBaseline":"alphabetic"}}
 },
 "resolve":{"axis":{"x":"independent"}},
 "layer":[
  {"transform":[{"filter":"datum.level === 1"}],"mark":{"type":"line","interpolate":"cardinal-closed","clip":true,"color":"black","strokeWidth":0.9},
   "encoding":{"x":{"field":"w","type":"quantitative","scale":{"domain":[0,1],"nice":false},"axis":{"orient":"bottom","values":[0,0.5,1],"format":"~g","domain":false,"tickSize":-4,"tickColor":"black","labelPadding":8,"title":"Attention (w)","titleY":40,"titleBaseline":"alphabetic"}},"detail":{"field":"level","type":"nominal"},"order":{"field":"i","type":"quantitative"}}},
  {"transform":[{"filter":"datum.level > 1"}],"mark":{"type":"line","interpolate":"cardinal-closed","clip":true,"color":"black","strokeWidth":0.9},
   "encoding":{"x":{"field":"w","type":"quantitative","scale":{"domain":[0,1],"nice":false},"axis":{"orient":"top","values":[0,0.5,1],"labels":false,"domain":false,"tickSize":-4,"tickColor":"black","title":null}},"detail":{"field":"level","type":"nominal"},"order":{"field":"i","type":"quantitative"}}}
 ]
},
{
 "width":255,"height":255,
 "data":{"name":"size_c"},
 "view":{"stroke":"black","strokeWidth":1},
 "encoding":{
  "y":{"field":"c","type":"quantitative","scale":{"domain":[0,5],"nice":false},"axis":{"values":[0,5],"format":"~g","domain":false,"tickSize":-4,"tickColor":"black","labelPadding":9,"title":"Generalization (c)","titleX":-23.7,"titleY":127.5,"titleBaseline":"alphabetic"}}
 },
 "resolve":{"axis":{"x":"independent"}},
 "layer":[
  {"transform":[{"filter":"datum.level === 1"}],"mark":{"type":"line","interpolate":"cardinal-closed","clip":true,"color":"black","strokeWidth":0.9},
   "encoding":{"x":{"field":"w","type":"quantitative","scale":{"domain":[0,1],"nice":false},"axis":{"orient":"bottom","values":[0,0.5,1],"format":"~g","domain":false,"tickSize":-4,"tickColor":"black","labelPadding":8,"title":"Attention (w)","titleY":40,"titleBaseline":"alphabetic"}},"detail":{"field":"level","type":"nominal"},"order":{"field":"i","type":"quantitative"}}},
  {"transform":[{"filter":"datum.level > 1"}],"mark":{"type":"line","interpolate":"cardinal-closed","clip":true,"color":"black","strokeWidth":0.9},
   "encoding":{"x":{"field":"w","type":"quantitative","scale":{"domain":[0,1],"nice":false},"axis":{"orient":"top","values":[0,0.5,1],"labels":false,"domain":false,"tickSize":-4,"tickColor":"black","title":null}},"detail":{"field":"level","type":"nominal"},"order":{"field":"i","type":"quantitative"}}}
 ]
}
]
}
